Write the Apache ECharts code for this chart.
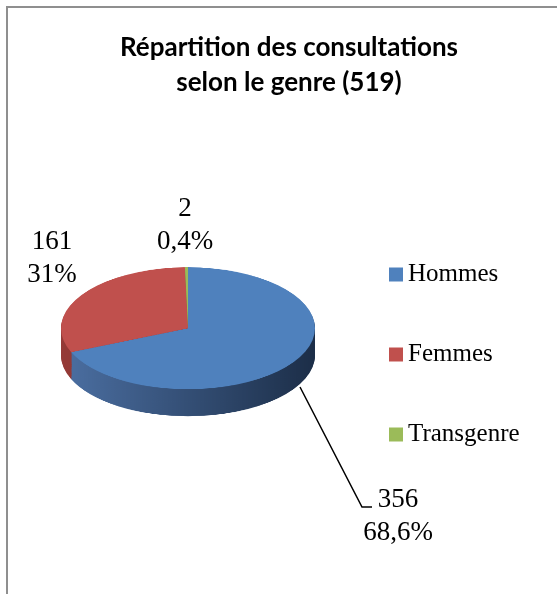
<!DOCTYPE html>
<html>
<head>
<meta charset="utf-8">
<script src="https://cdn.jsdelivr.net/npm/echarts@6/dist/echarts.min.js"></script>
<style>
    html, body { margin: 0; padding: 0; background: #fff; overflow: hidden; }
    #wrap { position: relative; width: 557px; height: 594px; overflow: hidden; }
    #frame { position: absolute; left: 6px; top: 6px; width: 600px; height: 640px; border: 2px solid #8f8f8f; box-sizing: border-box; }
    #pie3d { position: absolute; left: 0; width: 557px; height: 340px; transform-origin: 0 0; }
    #main { position: absolute; left: 0; top: 0; width: 557px; height: 594px; }
</style>
</head>
<body>
<div id="wrap">
    <div id="frame"></div>
    <div id="pie3d"></div>
    <div id="main"></div>
</div>
<script>
// données
const categories = ['Hommes', 'Femmes', 'Transgenre'];
const values = [356, 161, 2];
const topColors = ['#4f81bd', '#c0504d', '#9bbb59'];
const sideColors = [['#4a6d9f', '#1c2e48'], ['#953a37', '#7a2c2a'], ['#7c9846', '#647a38']];

const total = values.reduce((a, b) => a + b, 0);
const pieData = categories.map((name, i) => ({ name, value: values[i] }));

// ellipse du camembert 3D
const cx = 188, cy = 328, rx = 127, ry = 61, depth = 27;
const squash = ry / rx;
const pieEl = document.getElementById('pie3d');
const innerCy = 140;
pieEl.style.top = (cy - innerCy * squash) + 'px';
pieEl.style.transform = 'scaleY(' + squash + ')';

const pctText = (v) => {
    let s = (v / total * 100).toFixed(1);
    if (s.endsWith('.0')) s = s.slice(0, -2);
    return s.replace('.', ',');
};

// faces latérales empilées + face supérieure
let pieSeries = [];
const steps = 30;
const deep = depth / squash;
for (let k = steps; k >= 1; k--) {
    pieSeries.push({
        type: 'pie',
        silent: true,
        animation: false,
        center: [cx, innerCy + deep * k / steps],
        radius: rx,
        label: { show: false },
        labelLine: { show: false },
        itemStyle: { borderWidth: 0 },
        data: pieData.map((d, i) => ({
            name: d.name,
            value: d.value,
            itemStyle: {
                color: new echarts.graphic.LinearGradient(0, 0, 1, 0, [
                    { offset: 0, color: sideColors[i][0] },
                    { offset: 1, color: sideColors[i][1] }
                ])
            }
        }))
    });
}
pieSeries.push({
    type: 'pie',
    silent: true,
    animation: false,
    center: [cx, innerCy],
    radius: rx,
    label: { show: false },
    labelLine: { show: false },
    itemStyle: { borderWidth: 0 },
    data: pieData.map((d, i) => ({ name: d.name, value: d.value, itemStyle: { color: topColors[i] } }))
});

let pieChart = echarts.init(pieEl, null, { renderer: 'canvas' });
pieChart.setOption({ series: pieSeries });

// étiquettes (position à la Excel)
const labelPos = [
    { x: 398, y: 516, line: [[300, 387], [362, 507], [372, 507]] },
    { x: 52, y: 258 },
    { x: 185, y: 225 }
];

let mainChart = echarts.init(document.getElementById('main'));
mainChart.setOption({
    backgroundColor: 'transparent',
    title: {
        text: 'Répartition des consultations\nselon le genre (' + total + ')',
        left: 284,
        top: 25,
        textAlign: 'center',
        textStyle: {
            fontFamily: 'Lato',
            fontWeight: 'bold',
            fontSize: 26,
            lineHeight: 35,
            color: '#000'
        }
    },
    legend: {
        orient: 'vertical',
        left: 384,
        top: 257,
        itemWidth: 14,
        itemHeight: 14,
        itemGap: 55,
        icon: 'rect',
        selectedMode: false,
        textStyle: {
            fontFamily: 'Liberation Serif',
            fontSize: 25,
            lineHeight: 24,
            color: '#000',
            padding: [0, 0, 0, 0]
        },
        data: categories.map((name, i) => ({ name, itemStyle: { color: topColors[i] } }))
    },
    series: [
        {
            type: 'pie',
            silent: true,
            animation: false,
            center: [cx, cy],
            radius: rx,
            itemStyle: { color: 'rgba(0,0,0,0)', borderWidth: 0 },
            label: {
                show: true,
                formatter: (p) => p.value + '\n' + pctText(p.value) + '%',
                fontFamily: 'Liberation Serif',
                fontSize: 27,
                lineHeight: 33,
                color: '#000',
                align: 'center',
                overflow: 'none'
            },
            labelLine: { show: false, lineStyle: { color: '#000', width: 1.5 } },
            labelLayout: (params) => {
                const p = labelPos[params.dataIndex];
                let res = { x: p.x, y: p.y, align: 'center', verticalAlign: 'middle' };
                if (p.line) res.labelLinePoints = p.line;
                return res;
            },
            data: pieData.map((d, i) => ({
                name: d.name,
                value: d.value,
                labelLine: { show: i === 0 }
            }))
        }
    ]
});
</script>
</body>
</html>
